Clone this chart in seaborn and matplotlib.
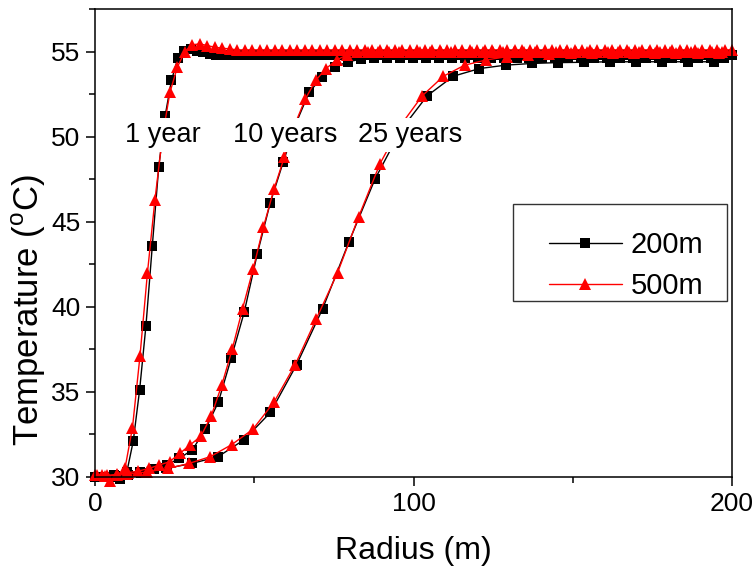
import numpy as np
import pandas as pd
import matplotlib
matplotlib.use("Agg")
import matplotlib.pyplot as plt
from matplotlib.patches import Rectangle
from matplotlib.ticker import MultipleLocator
import seaborn as sns

# ---------------- data: temperature profiles vs radius ----------------
# sampling grids (radius, m)
x_1y_200 = np.arange(0.0, 200.1, 2.0)
x_10y_200 = np.arange(2.1, 200.0, 4.07)
x_25y_200 = np.arange(5.9, 200.0, 8.2)
x_1y_500 = np.linspace(0.0, 200.0, 86)
x_10y_500 = np.arange(0.5, 200.0, 3.275)
x_25y_500 = np.arange(3.0, 200.0, 6.65)

# temperature (degC), depth 200 m
t_1y_200 = [30.0, 30.0, 30.0, 30.0, 29.9, 30.3, 32.1, 35.1, 38.9, 43.6,
            48.2, 51.2, 53.3, 54.6, 55.05, 55.15, 55.05, 54.95, 54.85, 54.8,
            54.8, 54.8, 54.8, 54.8, 54.8, 54.8, 54.8, 54.8, 54.8, 54.8,
            54.8, 54.8, 54.8, 54.8, 54.8, 54.8, 54.8, 54.8, 54.8, 54.8,
            54.8, 54.8, 54.8, 54.8, 54.8, 54.8, 54.8, 54.8, 54.8, 54.8,
            54.8, 54.8, 54.8, 54.8, 54.8, 54.8, 54.8, 54.8, 54.8, 54.8,
            54.8, 54.8, 54.8, 54.8, 54.8, 54.8, 54.8, 54.8, 54.8, 54.8,
            54.8, 54.8, 54.8, 54.8, 54.8, 54.8, 54.8, 54.8, 54.8, 54.8,
            54.8, 54.8, 54.8, 54.8, 54.8, 54.8, 54.8, 54.8, 54.8, 54.8,
            54.8, 54.8, 54.8, 54.8, 54.8, 54.8, 54.8, 54.8, 54.8, 54.8,
            54.8]
t_10y_200 = [30.0, 30.05, 30.1, 30.25, 30.45, 30.7, 31.1, 31.6, 32.8, 34.4,
             37.0, 39.7, 43.1, 46.1, 48.5, 50.8, 52.6, 53.5, 54.1, 54.4,
             54.55, 54.6, 54.65, 54.65, 54.65, 54.65, 54.65, 54.65, 54.65, 54.65,
             54.65, 54.65, 54.65, 54.65, 54.65, 54.65, 54.65, 54.65, 54.65, 54.65,
             54.65, 54.65, 54.65, 54.65, 54.65, 54.65, 54.65, 54.65, 54.65]
t_25y_200 = [30.1, 30.3, 30.5, 30.8, 31.2, 32.2, 33.8, 36.6, 39.9, 43.8,
             47.5, 50.4, 52.4, 53.55, 54.0, 54.2, 54.3, 54.35, 54.37, 54.4,
             54.4, 54.4, 54.4, 54.4]

# temperature (degC), depth 500 m
t_1y_500 = [30.1, 30.1, 29.75, 30.1, 30.5, 32.9, 37.1, 42.0, 46.3, 50.0,
            52.6, 54.1, 55.0, 55.4, 55.45, 55.35, 55.25, 55.2, 55.15, 55.1,
            55.1, 55.1, 55.1, 55.1, 55.1, 55.1, 55.1, 55.1, 55.1, 55.1,
            55.1, 55.1, 55.1, 55.1, 55.1, 55.1, 55.1, 55.1, 55.1, 55.1,
            55.1, 55.1, 55.1, 55.1, 55.1, 55.1, 55.1, 55.1, 55.1, 55.1,
            55.1, 55.1, 55.1, 55.1, 55.1, 55.1, 55.1, 55.1, 55.1, 55.1,
            55.1, 55.1, 55.1, 55.1, 55.1, 55.1, 55.1, 55.1, 55.1, 55.1,
            55.1, 55.1, 55.1, 55.1, 55.1, 55.1, 55.1, 55.1, 55.1, 55.1,
            55.1, 55.1, 55.1, 55.1, 55.1, 55.1]
t_10y_500 = [30.1, 30.1, 30.15, 30.25, 30.35, 30.5, 30.7, 30.9, 31.4, 31.9,
             32.4, 33.6, 35.4, 37.5, 39.9, 42.2, 44.7, 46.9, 48.8, 50.7,
             52.2, 53.3, 54.0, 54.5, 54.8, 54.95, 55.0, 55.0, 55.0, 55.0,
             55.0, 55.0, 55.0, 55.0, 55.0, 55.0, 55.0, 55.0, 55.0, 55.0,
             55.0, 55.0, 55.0, 55.0, 55.0, 55.0, 55.0, 55.0, 55.0, 55.0,
             55.0, 55.0, 55.0, 55.0, 55.0, 55.0, 55.0, 55.0, 55.0, 55.0,
             55.0]
t_25y_500 = [30.05, 30.15, 30.3, 30.5, 30.8, 31.2, 31.9, 32.8, 34.4, 36.6,
             39.3, 42.0, 45.3, 48.4, 50.7, 52.4, 53.55, 54.2, 54.5, 54.7,
             54.8, 54.85, 54.9, 54.9, 54.9, 54.9, 54.9, 54.9, 54.9, 54.9]

depth_labels = ["200m", "500m"]
time_labels = ["1 year", "10 years", "25 years"]
label_pos_x = [21.4, 59.7, 98.9]
label_pos_y = [50.1, 50.1, 50.1]

# ---------------- styling ----------------
sns.set_style("ticks")
plt.rcParams["font.family"] = ["Liberation Sans", "DejaVu Sans"]
plt.rcParams["mathtext.fontset"] = "custom"
plt.rcParams["mathtext.rm"] = "Liberation Sans"
for key in ("text.color", "axes.labelcolor", "xtick.color", "ytick.color",
            "axes.edgecolor"):
    plt.rcParams[key] = "black"

W, H = 755, 571
fig = plt.figure(figsize=(W / 100, H / 100), dpi=100)
ax = fig.add_axes([95 / W, 1 - 477 / H, (732 - 95) / W, (477 - 9) / H])

styles = {
    "200m": dict(color="black", marker="s", markersize=7),
    "500m": dict(color="#ff0000", marker="^", markersize=9),
}

curves = [
    ("200m", x_1y_200, t_1y_200),
    ("200m", x_10y_200, t_10y_200),
    ("200m", x_25y_200, t_25y_200),
    ("500m", x_1y_500, t_1y_500),
    ("500m", x_10y_500, t_10y_500),
    ("500m", x_25y_500, t_25y_500),
]

seen = set()
for depth, xs, ts in curves:
    df = pd.DataFrame({"r": xs, "T": ts})
    st = styles[depth]
    lab = depth if depth not in seen else None
    seen.add(depth)
    sns.lineplot(data=df, x="r", y="T", ax=ax, sort=False, estimator=None,
                 color=st["color"], marker=st["marker"], markersize=st["markersize"],
                 markeredgewidth=0, linewidth=1.0, label=lab, clip_on=False)

for txt, lx, ly in zip(time_labels, label_pos_x, label_pos_y):
    ax.text(lx, ly, txt, fontsize=19.5, ha="center", va="center", zorder=10,
            bbox=dict(facecolor="white", edgecolor="none", pad=3))

ax.set_xlim(0, 200)
ax.set_ylim(30, 57.5)
ax.xaxis.set_major_locator(MultipleLocator(100))
ax.xaxis.set_minor_locator(MultipleLocator(50))
ax.yaxis.set_major_locator(MultipleLocator(5))
ax.yaxis.set_minor_locator(MultipleLocator(2.5))
ax.tick_params(which="major", direction="out", length=6.5, width=1.1,
               labelsize=19, pad=4)
ax.tick_params(which="minor", direction="out", length=4.5, width=1.1)
ax.tick_params(top=False, right=False, which="both")
for sp in ax.spines.values():
    sp.set_visible(True)
    sp.set_linewidth(1.1)

ax.set_xlabel("Radius (m)", fontsize=23, labelpad=15)
ax.set_ylabel(r"Temperature ($^{\rm o}$C)", fontsize=25)
ax.yaxis.set_label_coords((48 - 95) / 637, (477 - 310) / 468)

# legend entries without a frame; the box is drawn separately
leg = ax.legend(loc="upper left", bbox_to_anchor=(549 / W, 1 - 231 / H),
                bbox_transform=fig.transFigure, fontsize=21, frameon=False,
                borderpad=0, handlelength=2.5, handletextpad=0.3,
                labelspacing=0.45, borderaxespad=0)
fig.patches.append(Rectangle((513 / W, 1 - 301 / H), (727 - 513) / W, (301 - 204) / H,
                             transform=fig.transFigure, fill=False,
                             edgecolor="#333333", linewidth=1.0))

fig.savefig("out.png", dpi=100)
